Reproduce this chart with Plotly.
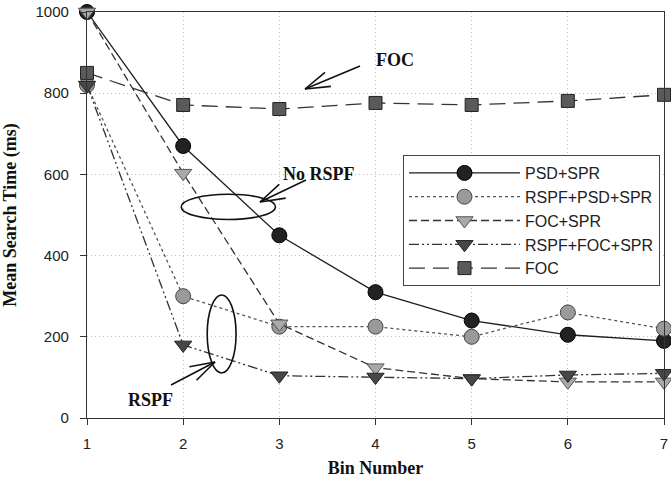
import math
import plotly.graph_objects as go

# Mean search time per bin for each search configuration
bins = [1, 2, 3, 4, 5, 6, 7]
psd_spr = [1000, 670, 450, 310, 240, 205, 190]
rspf_psd_spr = [820, 300, 225, 225, 200, 260, 220]
foc_spr = [1000, 603, 232, 124, 97, 89, 89]
rspf_foc_spr = [820, 180, 104, 101, 97, 106, 110]
foc = [850, 771, 761, 776, 771, 781, 796]

y_ticks = [0, 200, 400, 600, 800, 1000]

series = [
    ("PSD+SPR", psd_spr, dict(color="#1e1e1e", dash="solid"),
     dict(symbol="circle", size=15, color="#222222", line=dict(color="#000000", width=1))),
    ("RSPF+PSD+SPR", rspf_psd_spr, dict(color="#555555", dash="dot"),
     dict(symbol="circle", size=15, color="#9a9a9a", line=dict(color="#444444", width=1))),
    ("FOC+SPR", foc_spr, dict(color="#333333", dash="8px,4px"),
     dict(symbol="triangle-down", size=15, color="#a9a9a9", line=dict(color="#555555", width=1))),
    ("RSPF+FOC+SPR", rspf_foc_spr, dict(color="#333333", dash="10px,3px,2px,3px,2px,3px"),
     dict(symbol="triangle-down", size=15, color="#474747", line=dict(color="#222222", width=1))),
    ("FOC", foc, dict(color="#333333", dash="16px,8px"),
     dict(symbol="square", size=13, color="#5a5a5a", line=dict(color="#222222", width=1))),
]

fig = go.Figure()
for name, vals, line, marker in series:
    fig.add_trace(go.Scatter(
        x=bins, y=vals, name=name, mode="lines+markers",
        line=dict(width=1.3, **line), marker=marker, cliponaxis=False,
    ))

# Plot-area geometry in pixels (used for callout placement)
W, H = 671, 481
L, R, T, B = 87, 664, 12, 418


def paper(px, py):
    return (px - L) / (R - L), (B - py) / (B - T)


shapes = []


def arrow(tail, head, barb=26, ang=17):
    tx, ty = tail
    hx, hy = head
    dx, dy = tx - hx, ty - hy
    n = math.hypot(dx, dy)
    ux, uy = dx / n, dy / n
    segs = [(tail, head)]
    for s in (-1, 1):
        a = math.radians(ang * s)
        bx = hx + barb * (ux * math.cos(a) - uy * math.sin(a))
        by = hy + barb * (ux * math.sin(a) + uy * math.cos(a))
        segs.append(((bx, by), head))
    for p0, p1 in segs:
        x0, y0 = paper(*p0)
        x1, y1 = paper(*p1)
        shapes.append(dict(type="line", xref="paper", yref="paper",
                           x0=x0, y0=y0, x1=x1, y1=y1,
                           line=dict(color="#111111", width=1.6)))


arrow((360, 66), (305, 89))
arrow((306, 180), (260, 202))
arrow((171, 385), (215, 362))

# Ellipses grouping the curves
shapes.append(dict(type="circle", xref="x", yref="y", x0=1.98, x1=2.96, y0=489, y1=551,
                   line=dict(color="#111111", width=1.6)))
shapes.append(dict(type="circle", xref="x", yref="y", x0=2.25, x1=2.55, y0=111, y1=303,
                   line=dict(color="#111111", width=1.6)))

serif_bold = dict(family="Liberation Serif", size=18, color="#111111", weight="bold")
annotations = []
for text, (px, py) in [("FOC", (395, 60)), ("No RSPF", (319, 174)), ("RSPF", (150, 400))]:
    ax_, ay_ = paper(px, py)
    annotations.append(dict(text=text, xref="paper", yref="paper", x=ax_, y=ay_,
                            xanchor="center", yanchor="middle", showarrow=False,
                            font=serif_bold))

lx, ly = paper(403, 155)

fig.update_layout(
    width=W, height=H,
    template="none",
    paper_bgcolor="white", plot_bgcolor="white",
    margin=dict(l=L, r=W - R, t=T, b=H - B),
    font=dict(family="Liberation Sans", size=15, color="#222222"),
    shapes=shapes,
    annotations=annotations,
    showlegend=True,
    legend=dict(x=lx, y=ly, xanchor="left", yanchor="top",
                bgcolor="white", bordercolor="#444444", borderwidth=1,
                font=dict(family="Liberation Sans", size=16, color="#222222"),
                itemwidth=111, tracegroupgap=0),
    xaxis=dict(
        range=[1, 7], tickvals=bins, ticktext=[str(b) for b in bins],
        showgrid=True, gridcolor="#bdbdbd", griddash="1px,3px", gridwidth=1,
        zeroline=False, showline=True, linecolor="#333333", linewidth=1.2, mirror=True,
        ticks="outside", ticklen=6, tickcolor="#333333", ticklabelstandoff=6,
        ticklabeloverflow="allow", automargin=False,
        title=dict(text="Bin Number", font=serif_bold, standoff=10),
    ),
    yaxis=dict(
        range=[0, 1000], tickvals=y_ticks, ticktext=[str(v) for v in y_ticks],
        showgrid=True, gridcolor="#bdbdbd", griddash="1px,3px", gridwidth=1,
        zeroline=False, showline=True, linecolor="#333333", linewidth=1.2, mirror=True,
        ticks="outside", ticklen=6, tickcolor="#333333", ticklabelstandoff=8,
        automargin=False,
        title=dict(text="Mean Search Time (ms)", font=serif_bold, standoff=14),
    ),
)

fig.write_html("out.html")
